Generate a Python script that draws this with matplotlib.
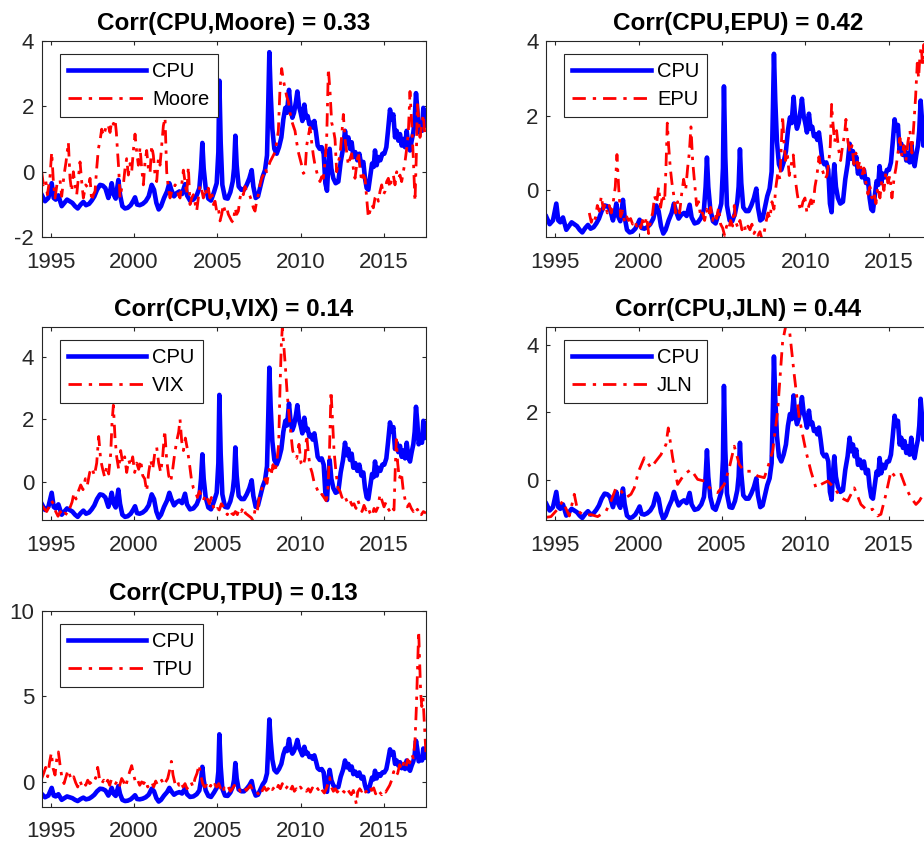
import matplotlib
matplotlib.use("Agg")
import matplotlib.pyplot as plt
import numpy as np

# ---------------------------------------------------------------------------
# Series (decimal year, standardised value)
# ---------------------------------------------------------------------------
CPU = [(1994.46,-0.70),(1994.66,-0.90),(1994.86,-0.80),(1995.06,-0.35),(1995.18,-0.80),(1995.30,-0.85),
       (1995.46,-0.72),(1995.66,-1.05),(1995.82,-0.95),(1995.98,-0.85),(1996.14,-0.90),(1996.30,-0.95),
       (1996.46,-1.05),(1996.62,-1.12),(1996.80,-1.00),(1996.96,-0.92),(1997.12,-1.02),(1997.30,-0.98),
       (1997.46,-0.88),(1997.62,-0.75),(1997.78,-0.55),(1997.96,-0.40),(1998.12,-0.42),(1998.28,-0.50),
       (1998.46,-0.80),(1998.56,-0.60),(1998.66,-0.35),(1998.78,-0.70),(1998.90,-0.82),(1999.06,-0.25),
       (1999.16,-0.70),(1999.30,-1.05),(1999.46,-1.12),(1999.62,-1.10),(1999.80,-1.02),(1999.96,-0.88),
       (2000.06,-0.78),(2000.18,-1.00),(2000.34,-1.02),(2000.52,-0.98),(2000.70,-0.90),(2000.88,-0.75),
       (2001.06,-0.40),(2001.20,-0.55),(2001.34,-0.95),(2001.48,-1.15),(2001.62,-1.05),(2001.80,-0.80),
       (2001.98,-0.60),(2002.12,-0.35),(2002.24,-0.55),(2002.40,-0.75),(2002.56,-0.65),(2002.72,-0.60),
       (2002.88,-0.68),(2003.06,-0.38),(2003.18,-0.72),(2003.36,-0.88),(2003.56,-0.85),(2003.76,-0.72),
       (2003.92,-0.50),(2004.02,0.10),(2004.10,0.88),(2004.18,0.10),(2004.30,-0.50),(2004.46,-0.82),
       (2004.62,-0.88),(2004.80,-0.62),(2004.96,-0.35),(2005.06,0.60),(2005.12,2.78),(2005.20,0.90),
       (2005.30,-0.40),(2005.46,-0.80),(2005.62,-0.82),(2005.78,-0.62),(2005.92,-0.30),(2006.00,0.10),
       (2006.08,1.10),(2006.16,0.20),(2006.28,-0.45),(2006.44,-0.55),(2006.60,-0.55),(2006.76,-0.40),
       (2006.92,-0.20),(2007.06,0.05),(2007.16,-0.45),(2007.30,-0.80),(2007.44,-0.75),(2007.58,-0.45),
       (2007.72,-0.15),(2007.86,0.05),(2007.98,0.50),(2008.06,2.20),(2008.12,3.65),(2008.20,2.40),
       (2008.30,1.30),(2008.42,0.70),(2008.56,0.55),(2008.70,0.75),(2008.84,1.05),(2008.96,1.60),
       (2009.08,1.95),(2009.18,1.80),(2009.30,2.50),(2009.40,1.90),(2009.50,1.65),(2009.60,1.80),
       (2009.72,2.15),(2009.80,2.45),(2009.90,2.00),(2010.00,1.80),(2010.10,1.55),(2010.22,2.05),
       (2010.32,1.65),(2010.42,1.70),(2010.52,1.45),(2010.62,1.50),(2010.72,1.35),(2010.82,1.55),
       (2010.92,1.20),(2011.02,0.80),(2011.14,0.70),(2011.26,0.75),(2011.38,0.55),(2011.48,-0.35),
       (2011.58,-0.58),(2011.66,0.20),(2011.74,0.70),(2011.84,0.10),(2011.96,-0.20),(2012.10,-0.35),
       (2012.26,-0.30),(2012.40,0.30),(2012.54,0.70),(2012.66,1.25),(2012.76,0.85),(2012.86,1.05),
       (2012.96,0.70),(2013.06,0.90),(2013.16,0.45),(2013.28,0.60),(2013.40,0.35),(2013.52,0.55),
       (2013.64,0.20),(2013.76,0.30),(2013.86,-0.20),(2013.96,-0.50),(2014.06,-0.55),(2014.18,-0.10),
       (2014.28,0.25),(2014.38,0.15),(2014.46,0.65),(2014.56,0.20),(2014.66,0.45),(2014.78,0.35),
       (2014.90,0.55),(2015.02,0.55),(2015.14,0.75),(2015.24,1.25),(2015.36,1.90),(2015.46,1.60),
       (2015.56,1.75),(2015.66,1.05),(2015.76,1.25),(2015.86,0.95),(2015.96,1.15),(2016.06,0.80),
       (2016.16,1.00),(2016.26,0.75),(2016.36,1.25),(2016.46,0.80),(2016.56,0.65),(2016.66,0.95),
       (2016.76,1.20),(2016.84,1.60),(2016.92,2.40),(2017.00,1.90),(2017.08,1.20),(2017.18,1.35),
       (2017.28,1.25),(2017.36,1.95),(2017.44,1.40),(2017.52,1.85)]

MOORE = [(1994.46,0.00),(1994.56,-0.40),(1994.70,-0.25),(1994.80,-0.70),(1994.95,-0.20),(1995.06,0.60),
         (1995.16,-0.30),(1995.26,-0.80),(1995.40,-0.30),(1995.56,-0.25),(1995.66,-0.75),(1995.80,-0.10),
         (1995.92,0.30),(1996.06,0.90),(1996.16,-0.20),(1996.26,-0.60),(1996.36,0.00),(1996.46,-0.40),
         (1996.56,-0.70),(1996.66,-0.20),(1996.76,0.30),(1996.86,-0.30),(1996.96,-0.80),(1997.10,-0.40),
         (1997.26,-0.50),(1997.36,-0.20),(1997.46,-0.90),(1997.56,-0.70),(1997.66,-0.60),(1997.76,0.10),
         (1997.86,0.70),(1997.96,0.95),(1998.06,1.30),(1998.16,1.10),(1998.26,1.25),(1998.36,1.45),
         (1998.46,1.40),(1998.56,1.20),(1998.66,1.55),(1998.76,1.45),(1998.86,1.60),(1998.94,1.20),
         (1999.00,0.70),(1999.08,0.10),(1999.16,-0.80),(1999.26,-0.50),(1999.36,-0.40),(1999.46,0.10),
         (1999.56,0.40),(1999.66,-0.10),(1999.76,0.25),(1999.86,0.00),(1999.96,0.65),(2000.06,1.15),
         (2000.16,0.60),(2000.26,0.20),(2000.36,0.75),(2000.46,0.10),(2000.56,-0.40),(2000.66,0.30),
         (2000.76,0.65),(2000.86,0.10),(2000.96,-0.05),(2001.06,0.80),(2001.16,0.50),(2001.26,-0.10),
         (2001.36,-0.30),(2001.46,0.40),(2001.56,0.20),(2001.66,0.80),(2001.76,1.40),(2001.86,1.65),
         (2001.96,0.00),(2002.06,-0.50),(2002.16,-0.80),(2002.26,-0.60),(2002.36,-0.60),(2002.46,-0.40),
         (2002.56,-0.45),(2002.66,-0.70),(2002.76,-0.80),(2002.86,-0.40),(2002.96,0.05),(2003.06,-0.30),
         (2003.16,-0.70),(2003.26,0.15),(2003.36,-1.00),(2003.46,-0.80),(2003.56,-0.70),(2003.66,-0.95),
         (2003.76,-1.20),(2003.86,-0.80),(2003.96,-0.40),(2004.06,-0.55),(2004.16,-0.80),(2004.26,-0.50),
         (2004.36,-0.70),(2004.46,-0.50),(2004.56,-0.80),(2004.66,-0.60),(2004.76,-1.00),(2004.86,-0.90),
         (2004.96,-1.20),(2005.06,-1.10),(2005.16,-1.50),(2005.26,-1.30),(2005.36,-1.00),(2005.46,-1.20),
         (2005.56,-1.10),(2005.66,-1.30),(2005.76,-1.40),(2005.86,-1.50),(2005.96,-1.55),(2006.06,-1.10),
         (2006.16,-1.30),(2006.26,-1.20),(2006.36,-0.80),(2006.46,-0.60),(2006.56,-0.70),(2006.66,-0.45),
         (2006.76,-0.60),(2006.86,-0.65),(2006.96,-0.75),(2007.06,-0.90),(2007.16,-1.10),(2007.26,-1.20),
         (2007.36,-0.90),(2007.46,-0.70),(2007.56,-0.40),(2007.66,-0.20),(2007.76,-0.10),(2007.86,0.10),
         (2007.96,0.00),(2008.06,0.15),(2008.16,0.30),(2008.26,0.40),(2008.36,0.50),(2008.46,0.60),
         (2008.56,0.90),(2008.66,1.25),(2008.76,2.55),(2008.86,3.15),(2008.96,2.80),(2009.06,2.55),
         (2009.16,2.30),(2009.26,2.15),(2009.36,1.80),(2009.46,1.55),(2009.56,1.40),(2009.66,1.25),
         (2009.76,0.90),(2009.86,0.60),(2009.96,0.40),(2010.06,0.20),(2010.16,-0.05),(2010.26,0.00),
         (2010.36,0.80),(2010.46,1.10),(2010.56,1.35),(2010.66,0.90),(2010.76,0.50),(2010.86,0.20),
         (2010.96,0.00),(2011.06,-0.20),(2011.16,-0.30),(2011.26,-0.15),(2011.36,-0.20),(2011.46,0.30),
         (2011.56,1.00),(2011.66,3.15),(2011.76,2.45),(2011.86,1.50),(2011.96,1.30),(2012.06,1.00),
         (2012.16,0.00),(2012.26,0.30),(2012.36,0.50),(2012.46,1.10),(2012.56,1.75),(2012.66,1.00),
         (2012.76,0.60),(2012.86,0.20),(2012.96,0.40),(2013.06,0.55),(2013.16,0.10),(2013.26,-0.20),
         (2013.36,0.20),(2013.46,0.60),(2013.56,0.10),(2013.66,-0.30),(2013.76,-0.10),(2013.86,-0.20),
         (2013.96,-0.80),(2014.06,-1.40),(2014.16,-1.20),(2014.26,-1.00),(2014.36,-1.10),(2014.46,-0.80),
         (2014.56,-0.70),(2014.66,-0.90),(2014.76,-0.60),(2014.86,-0.40),(2014.96,-0.70),(2015.06,-0.60),
         (2015.16,-0.30),(2015.26,-0.20),(2015.36,-0.50),(2015.46,-0.20),(2015.56,-0.10),(2015.66,-0.40),
         (2015.76,0.00),(2015.86,-0.20),(2015.96,-0.10),(2016.06,-0.30),(2016.16,0.00),(2016.26,0.30),
         (2016.36,0.70),(2016.46,1.20),(2016.56,2.45),(2016.66,1.50),(2016.76,0.40),(2016.86,-0.90),
         (2016.94,0.50),(2017.00,2.05),(2017.08,1.60),(2017.16,1.05),(2017.26,1.40),(2017.36,1.75),
         (2017.44,1.20),(2017.52,1.35)]

EPU = [(1997.04,-0.60),(1997.16,-0.85),(1997.28,-0.65),(1997.40,-0.75),(1997.52,-0.40),(1997.64,-0.55),
       (1997.76,-0.15),(1997.88,-0.50),(1998.00,-0.35),(1998.12,-0.60),(1998.24,-0.40),(1998.36,-0.60),
       (1998.48,-0.30),(1998.60,0.10),(1998.70,0.96),(1998.80,0.10),(1998.92,-0.70),(1999.04,-0.55),
       (1999.16,-0.85),(1999.28,-0.70),(1999.40,-0.80),(1999.52,-0.75),(1999.64,-0.90),(1999.76,-0.80),
       (1999.88,-0.95),(2000.00,-0.85),(2000.12,-1.00),(2000.24,-0.80),(2000.36,-0.95),(2000.48,-0.70),
       (2000.60,-1.15),(2000.72,-0.80),(2000.84,-0.60),(2000.96,-0.15),(2001.08,-0.35),(2001.20,0.10),
       (2001.32,-0.45),(2001.44,-0.10),(2001.56,-0.30),(2001.64,0.60),(2001.72,1.80),(2001.80,1.20),
       (2001.90,0.60),(2002.00,0.20),(2002.10,-0.10),(2002.22,-0.60),(2002.34,-0.30),(2002.46,-0.60),
       (2002.58,-0.10),(2002.70,0.30),(2002.82,0.00),(2002.94,0.60),(2003.04,1.00),(2003.14,1.70),
       (2003.24,0.80),(2003.36,0.20),(2003.48,-0.40),(2003.60,-0.30),(2003.72,-0.70),(2003.84,-0.60),
       (2003.96,-0.80),(2004.08,-0.50),(2004.20,-0.70),(2004.32,-0.45),(2004.44,-0.80),(2004.56,-0.60),
       (2004.68,-0.75),(2004.80,-0.45),(2004.92,-0.90),(2005.04,-1.00),(2005.16,-1.20),(2005.28,-0.95),
       (2005.40,-1.05),(2005.52,-0.80),(2005.64,-0.95),(2005.74,-0.40),(2005.84,-0.85),(2005.96,-1.00),
       (2006.08,-0.80),(2006.20,-1.05),(2006.32,-0.90),(2006.44,-1.10),(2006.56,-0.95),(2006.68,-1.05),
       (2006.80,-0.90),(2006.92,-1.15),(2007.04,-1.05),(2007.16,-1.20),(2007.28,-1.10),(2007.40,-1.30),
       (2007.52,-1.15),(2007.64,-0.85),(2007.76,-0.60),(2007.88,-0.75),(2008.00,-0.30),(2008.12,-0.50),
       (2008.24,0.10),(2008.36,0.50),(2008.48,0.30),(2008.56,1.20),(2008.64,2.00),(2008.72,1.30),
       (2008.82,0.80),(2008.92,1.00),(2009.04,0.40),(2009.16,0.70),(2009.28,0.95),(2009.40,0.30),
       (2009.52,-0.10),(2009.64,-0.40),(2009.74,-0.55),(2009.86,-0.30),(2009.98,-0.20),(2010.10,-0.60),
       (2010.22,-0.40),(2010.34,-0.25),(2010.46,-0.45),(2010.58,0.10),(2010.70,0.40),(2010.82,0.90),
       (2010.94,0.60),(2011.06,0.50),(2011.18,0.30),(2011.30,0.40),(2011.42,0.80),(2011.50,1.20),
       (2011.58,2.30),(2011.66,1.80),(2011.76,1.30),(2011.88,1.60),(2012.00,1.10),(2012.12,0.80),
       (2012.24,1.20),(2012.36,1.50),(2012.44,1.90),(2012.56,1.30),(2012.68,1.00),(2012.80,1.20),
       (2012.92,0.70),(2013.04,1.00),(2013.16,0.60),(2013.28,0.80),(2013.40,0.40),(2013.52,0.60),
       (2013.64,0.20),(2013.76,-0.10),(2013.88,0.10),(2014.00,-0.20),(2014.12,-0.05),(2014.24,-0.35),
       (2014.36,0.10),(2014.48,-0.20),(2014.60,0.30),(2014.72,0.00),(2014.84,0.50),(2014.96,0.20),
       (2015.08,0.40),(2015.20,-0.20),(2015.32,0.30),(2015.44,0.60),(2015.56,1.00),(2015.68,1.40),
       (2015.80,0.90),(2015.92,1.20),(2016.04,0.80),(2016.16,1.30),(2016.28,1.60),(2016.40,1.00),
       (2016.52,1.80),(2016.62,2.50),(2016.72,3.40),(2016.80,3.00),(2016.88,3.60),(2016.96,3.85),
       (2017.04,3.30),(2017.12,3.90),(2017.20,3.20),(2017.30,2.40),(2017.42,2.00),(2017.52,1.90)]

VIX = [(1994.46,-0.75),(1994.60,-0.85),(1994.76,-0.95),(1994.90,-0.80),(1995.04,-0.60),(1995.16,-0.70),
       (1995.30,-0.95),(1995.44,-1.10),(1995.58,-0.95),(1995.72,-1.10),(1995.86,-1.00),(1996.00,-1.05),
       (1996.14,-0.85),(1996.28,-0.65),(1996.40,-0.35),(1996.52,-0.55),(1996.66,-0.30),(1996.80,-0.10),
       (1996.94,-0.25),(1997.08,0.10),(1997.20,-0.10),(1997.34,0.30),(1997.48,0.45),(1997.62,0.20),
       (1997.76,0.60),(1997.88,1.45),(1998.00,0.70),(1998.12,0.40),(1998.24,0.15),(1998.36,0.50),
       (1998.48,0.25),(1998.60,0.90),(1998.68,1.90),(1998.76,2.45),(1998.86,1.40),(1998.96,0.80),
       (1999.08,0.40),(1999.20,1.00),(1999.32,0.60),(1999.44,0.80),(1999.56,0.30),(1999.68,0.70),
       (1999.80,0.50),(1999.92,0.80),(2000.04,0.30),(2000.16,0.60),(2000.28,0.40),(2000.40,0.70),
       (2000.52,0.20),(2000.64,0.10),(2000.76,-0.30),(2000.88,0.30),(2001.00,0.70),(2001.12,0.40),
       (2001.24,0.90),(2001.36,1.10),(2001.48,0.60),(2001.60,0.30),(2001.72,0.80),(2001.84,1.65),
       (2001.96,0.70),(2002.08,0.20),(2002.20,0.00),(2002.32,0.40),(2002.44,0.90),(2002.56,1.30),
       (2002.68,1.60),(2002.76,2.00),(2002.86,1.30),(2002.96,1.00),(2003.08,1.40),(2003.20,1.05),
       (2003.32,0.60),(2003.44,0.10),(2003.56,-0.20),(2003.68,-0.30),(2003.80,-0.50),(2003.92,-0.30),
       (2004.04,-0.45),(2004.16,-0.60),(2004.28,-0.40),(2004.40,-0.55),(2004.52,-0.70),(2004.64,-0.50),
       (2004.76,-0.80),(2004.88,-0.95),(2005.00,-0.85),(2005.12,-0.90),(2005.24,-0.70),(2005.36,-0.80),
       (2005.48,-0.95),(2005.60,-1.05),(2005.72,-0.90),(2005.84,-1.00),(2005.96,-1.05),(2006.08,-0.95),
       (2006.20,-1.05),(2006.32,-0.85),(2006.44,-0.95),(2006.56,-0.80),(2006.68,-1.00),(2006.80,-1.05),
       (2006.92,-1.10),(2007.04,-1.15),(2007.14,-1.25),(2007.26,-0.90),(2007.38,-1.00),(2007.50,-0.55),
       (2007.62,-0.30),(2007.74,-0.10),(2007.86,0.10),(2007.98,-0.05),(2008.10,0.40),(2008.22,0.20),
       (2008.34,0.55),(2008.46,0.30),(2008.58,0.70),(2008.68,1.20),(2008.76,3.00),(2008.84,4.40),
       (2008.90,4.95),(2008.98,4.40),(2009.08,3.70),(2009.18,2.90),(2009.28,2.25),(2009.40,1.60),
       (2009.52,1.00),(2009.64,0.80),(2009.76,0.75),(2009.90,1.20),(2010.02,0.60),(2010.14,0.50),
       (2010.26,0.75),(2010.36,1.50),(2010.46,0.90),(2010.56,0.50),(2010.68,0.30),(2010.80,0.00),
       (2010.92,-0.15),(2011.04,-0.30),(2011.16,-0.45),(2011.28,-0.40),(2011.40,-0.50),(2011.52,-0.60),
       (2011.62,-0.40),(2011.72,0.80),(2011.82,2.90),(2011.90,2.10),(2012.00,1.00),(2012.12,0.30),
       (2012.24,-0.20),(2012.36,-0.30),(2012.48,-0.50),(2012.60,-0.40),(2012.72,-0.55),(2012.84,-0.70),
       (2012.96,-0.60),(2013.08,-0.75),(2013.20,-0.70),(2013.32,-0.85),(2013.44,-0.60),(2013.56,-0.80),
       (2013.68,-0.95),(2013.80,-0.75),(2013.92,-0.90),(2014.04,-0.80),(2014.16,-1.00),(2014.28,-1.10),
       (2014.40,-0.85),(2014.52,-0.95),(2014.64,-0.80),(2014.76,-0.40),(2014.88,-0.60),(2015.00,-0.80),
       (2015.12,-0.65),(2015.24,-0.85),(2015.36,-0.95),(2015.48,-0.80),(2015.60,-0.90),(2015.68,0.50),
       (2015.74,1.35),(2015.82,0.60),(2015.92,0.10),(2016.04,0.30),(2016.16,-0.30),(2016.28,-0.60),
       (2016.40,-0.80),(2016.52,-0.70),(2016.64,-0.85),(2016.76,-0.95),(2016.88,-0.80),(2017.00,-0.90),
       (2017.12,-0.85),(2017.24,-1.05),(2017.36,-0.95),(2017.52,-1.00)]

JLN = [(1994.46,-1.10),(1994.74,-1.08),(1995.14,-0.86),(1995.44,-0.62),(1995.84,-1.06),(1996.14,-0.42),
       (1996.34,-0.91),(1996.74,-1.05),(1997.14,-1.02),(1997.54,-1.08),(1998.04,-0.92),(1998.34,-0.62),
       (1998.64,-0.23),(1998.94,-0.32),(1999.24,-0.52),(1999.54,-0.42),(1999.74,-0.23),(2000.00,0.26),
       (2000.34,0.66),(2000.74,0.36),(2001.04,0.56),(2001.34,0.75),(2001.64,1.05),(2001.78,1.54),
       (2002.04,0.66),(2002.34,-0.13),(2002.74,0.17),(2003.14,0.31),(2003.54,0.02),(2003.94,-0.03),
       (2004.34,-0.27),(2004.74,-0.37),(2005.14,-0.13),(2005.44,0.36),(2005.74,1.00),(2006.04,0.46),
       (2006.34,0.26),(2006.74,0.26),(2007.14,0.12),(2007.54,0.07),(2007.74,0.36),(2008.04,0.85),
       (2008.34,2.03),(2008.64,4.09),(2008.84,4.58),(2009.04,4.48),(2009.34,3.10),(2009.64,1.83),
       (2010.04,0.85),(2010.34,0.26),(2010.64,-0.23),(2010.94,-0.13),(2011.34,-0.03),(2011.74,-0.23),
       (2012.14,-0.52),(2012.54,-0.62),(2012.94,-0.23),(2013.34,-0.72),(2013.74,-0.91),(2014.04,-0.86),
       (2014.34,-1.06),(2014.54,-1.01),(2014.84,-0.42),(2015.14,0.26),(2015.44,0.07),(2015.74,0.17),
       (2016.04,-0.23),(2016.34,-0.52),(2016.64,-0.72),(2016.84,-0.62),(2017.14,-0.37),(2017.52,-0.13)]

TPU = [(1994.46,0.20),(1994.58,0.50),(1994.70,0.85),(1994.82,0.30),(1994.94,1.20),(1995.04,1.70),
       (1995.14,0.80),(1995.26,0.40),(1995.36,1.30),(1995.46,1.75),(1995.56,1.00),(1995.68,0.20),
       (1995.80,-0.10),(1995.92,0.30),(1996.04,0.70),(1996.14,0.40),(1996.26,0.10),(1996.38,0.30),
       (1996.50,-0.05),(1996.62,-0.30),(1996.74,0.10),(1996.86,-0.20),(1996.98,0.00),(1997.10,-0.20),
       (1997.22,0.10),(1997.34,-0.10),(1997.46,0.00),(1997.58,0.30),(1997.70,0.20),(1997.82,0.85),
       (1997.94,0.10),(1998.06,-0.10),(1998.18,0.10),(1998.30,-0.15),(1998.42,0.10),(1998.54,-0.20),
       (1998.66,0.20),(1998.78,0.00),(1998.90,-0.10),(1999.02,0.10),(1999.14,-0.20),(1999.26,0.20),
       (1999.38,0.00),(1999.50,-0.30),(1999.62,0.20),(1999.74,0.60),(1999.86,0.95),(1999.98,0.40),
       (2000.10,-0.05),(2000.22,0.10),(2000.34,-0.20),(2000.46,0.00),(2000.58,-0.10),(2000.70,0.10),
       (2000.82,-0.30),(2000.94,-0.10),(2001.06,0.00),(2001.18,-0.30),(2001.30,0.05),(2001.42,-0.20),
       (2001.54,-0.10),(2001.66,0.10),(2001.78,-0.20),(2001.90,0.00),(2002.02,0.20),(2002.14,0.70),
       (2002.24,1.20),(2002.34,0.40),(2002.46,-0.10),(2002.58,0.10),(2002.70,-0.20),(2002.82,0.00),
       (2002.94,-0.30),(2003.06,-0.10),(2003.18,-0.40),(2003.30,-0.20),(2003.42,0.00),(2003.54,-0.30),
       (2003.66,0.20),(2003.78,0.50),(2003.90,1.00),(2004.00,0.40),(2004.12,-0.10),(2004.24,-0.30),
       (2004.36,-0.20),(2004.48,-0.45),(2004.60,-0.20),(2004.72,-0.40),(2004.84,-0.15),(2004.96,-0.30),
       (2005.08,-0.10),(2005.20,-0.40),(2005.30,-0.65),(2005.42,-0.35),(2005.54,-0.50),(2005.66,-0.30),
       (2005.78,-0.55),(2005.90,-0.40),(2006.02,-0.20),(2006.14,-0.45),(2006.26,-0.35),(2006.38,-0.55),
       (2006.50,-0.40),(2006.62,-0.30),(2006.74,-0.50),(2006.86,-0.35),(2006.98,-0.20),(2007.10,-0.45),
       (2007.22,-0.40),(2007.34,-0.55),(2007.46,-0.70),(2007.58,-0.85),(2007.70,-0.50),(2007.82,-0.30),
       (2007.94,-0.50),(2008.06,-0.40),(2008.18,-0.20),(2008.30,-0.45),(2008.42,-0.30),(2008.54,-0.50),
       (2008.66,-0.20),(2008.78,-0.40),(2008.90,-0.10),(2009.02,-0.45),(2009.14,-0.35),(2009.26,-0.20),
       (2009.38,-0.50),(2009.50,-0.25),(2009.62,-0.55),(2009.74,-0.40),(2009.86,-0.55),(2009.98,-0.30),
       (2010.10,-0.45),(2010.22,-0.35),(2010.34,-0.55),(2010.46,-0.40),(2010.58,-0.60),(2010.70,-0.35),
       (2010.82,-0.50),(2010.94,-0.30),(2011.06,-0.45),(2011.18,-0.25),(2011.30,-0.50),(2011.42,-0.65),
       (2011.54,-0.40),(2011.66,0.00),(2011.74,0.25),(2011.84,-0.30),(2011.96,-0.55),(2012.08,-0.40),
       (2012.20,-0.60),(2012.32,-0.45),(2012.44,-0.35),(2012.56,-0.55),(2012.68,-0.65),(2012.80,-0.40),
       (2012.92,-0.60),(2013.04,-0.75),(2013.16,-0.50),(2013.28,-1.00),(2013.34,-1.30),(2013.42,-0.60),
       (2013.54,-0.40),(2013.66,-0.55),(2013.78,-0.35),(2013.90,-0.60),(2014.02,-0.45),(2014.14,-0.25),
       (2014.26,-0.50),(2014.38,-0.35),(2014.50,-0.70),(2014.62,-0.45),(2014.74,-0.60),(2014.86,-0.75),
       (2014.98,-0.50),(2015.10,-0.60),(2015.22,-0.40),(2015.34,-0.20),(2015.46,0.10),(2015.58,0.60),
       (2015.70,0.30),(2015.82,0.50),(2015.94,1.00),(2016.06,0.70),(2016.18,1.10),(2016.30,0.80),
       (2016.42,1.30),(2016.54,1.10),(2016.66,1.60),(2016.76,1.40),(2016.86,2.40),(2016.94,4.30),
       (2017.00,6.30),(2017.08,8.80),(2017.14,7.00),(2017.20,5.20),(2017.27,4.40),(2017.34,4.90),
       (2017.40,3.80),(2017.46,2.60),(2017.52,1.60)]

OTHER_NAMES = ["Moore", "EPU", "VIX", "JLN", "TPU"]
OTHER_SERIES = [MOORE, EPU, VIX, JLN, TPU]
CORRELATIONS = [0.33, 0.42, 0.14, 0.44, 0.13]
Y_LIMITS = [(-2, 4), (-1.25, 4), (-1.22, 4.96), (-1.18, 4.53), (-1.45, 10)]
Y_TICKS = [[-2, 0, 2, 4], [0, 2, 4], [0, 2, 4], [0, 2, 4], [0, 5, 10]]
X_TICKS = [1995, 2000, 2005, 2010, 2015]
X_LIMITS = (1994.46, 2017.52)

# ---------------------------------------------------------------------------
# Styling
# ---------------------------------------------------------------------------
plt.rcParams["font.family"] = ["Liberation Sans", "DejaVu Sans"]
plt.rcParams["axes.unicode_minus"] = False
plt.rcParams["lines.scale_dashes"] = False
AX_COLOR = "#262626"

W, H = 924, 843
fig = plt.figure(figsize=(W / 100, H / 100), dpi=100)

# axes boxes in pixels: (left, top, right, bottom)
col_x = [(41.7, 426.0), (546.3, 930.6)]
row_y = [(40.7, 237.3), (326.7, 520.0), (610.7, 806.7)]
slots = [(0, 0), (0, 1), (1, 0), (1, 1), (2, 0)]

dashdot = (0, (9.6, 5.0, 2.4, 5.0))

for k, (r, c) in enumerate(slots):
    x0, x1 = col_x[c]
    y0, y1 = row_y[r]
    ax = fig.add_axes([x0 / W, 1 - y1 / H, (x1 - x0) / W, (y1 - y0) / H])

    cx, cy = zip(*CPU)
    ox, oy = zip(*OTHER_SERIES[k])
    ax.plot(cx, cy, color=(0, 0, 1), lw=3.3, label="CPU", solid_joinstyle="round")
    ax.plot(ox, oy, color=(1, 0, 0), lw=2.0, linestyle=dashdot, label=OTHER_NAMES[k])

    ax.set_xlim(*X_LIMITS)
    ax.set_ylim(*Y_LIMITS[k])
    ax.set_xticks(X_TICKS)
    ax.set_yticks(Y_TICKS[k])
    ax.set_yticklabels([str(v) for v in Y_TICKS[k]])

    ax.tick_params(axis="both", which="both", direction="in", length=3.0, width=0.8,
                   colors=AX_COLOR, labelsize=16, top=True, right=True)
    ax.tick_params(axis="x", pad=10.5)
    ax.tick_params(axis="y", pad=5.5)
    for sp in ax.spines.values():
        sp.set_color(AX_COLOR)
        sp.set_linewidth(0.8)

    ax.set_title(f"Corr(CPU,{OTHER_NAMES[k]}) = {CORRELATIONS[k]:.2f}",
                 fontsize=17.5, fontweight="bold", color="black", pad=7.5)

    leg = ax.legend(loc="upper left", bbox_to_anchor=(18 / (x1 - x0), 1 - 13 / (y1 - y0)),
                    borderaxespad=0, fontsize=14.5, frameon=True, fancybox=False,
                    framealpha=1, edgecolor=AX_COLOR, handlelength=3.9,
                    handletextpad=0.3, borderpad=0.4, labelspacing=0.45)
    leg.get_frame().set_linewidth(0.8)

fig.savefig("out.png", dpi=100)
